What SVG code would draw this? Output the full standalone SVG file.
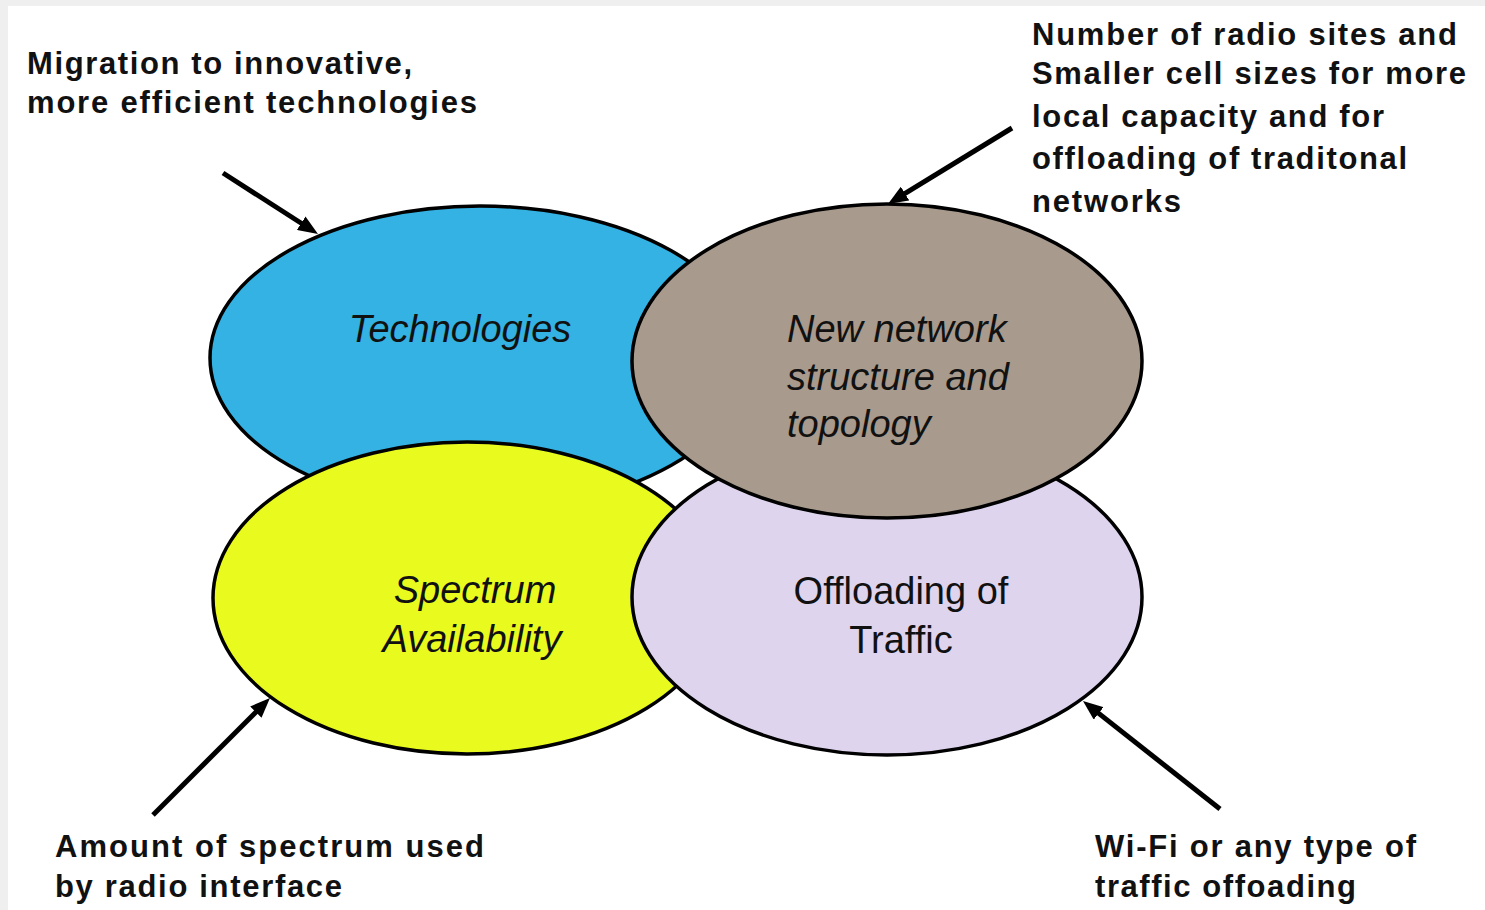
<svg xmlns="http://www.w3.org/2000/svg" width="1485" height="910" viewBox="0 0 1485 910">
<style>
.ell{stroke:#000;stroke-width:3.5}
.lbl{font-family:"Liberation Sans",Arial,sans-serif;font-size:38px;fill:#111}
.it{font-style:italic}
.note{font-family:"Liberation Sans",Arial,sans-serif;font-weight:bold;font-size:31px;fill:#111}
.arr{stroke:#000;stroke-width:5;fill:none;marker-end:url(#ah)}
</style>
<defs>
<marker id="ah" viewBox="0 0 20 16" refX="8" refY="8" markerWidth="20" markerHeight="16" markerUnits="userSpaceOnUse" orient="auto">
<path d="M0,0 L20,8 L0,16 z" fill="#000"/>
</marker>
</defs>
<rect x="0" y="0" width="1485" height="910" fill="#efefef"/>
<rect x="8" y="6" width="1477" height="904" fill="#fff"/>

<g id="node-technologies">
<ellipse class="ell" cx="480" cy="358" rx="270" ry="152" fill="#33b2e3"/>
<text class="lbl it" x="460" y="342" text-anchor="middle">Technologies</text>
</g>
<g id="node-spectrum">
<ellipse class="ell" cx="467" cy="598" rx="254" ry="156" fill="#e9fa1e"/>
<text class="lbl it" x="475" y="603" text-anchor="middle">Spectrum</text>
<text class="lbl it" x="472" y="652" text-anchor="middle">Availability</text>
</g>
<g id="node-offloading">
<ellipse class="ell" cx="887" cy="597" rx="255" ry="158" fill="#ded4ee"/>
<text class="lbl" x="901" y="604" text-anchor="middle">Offloading of</text>
<text class="lbl" x="901" y="653" text-anchor="middle">Traffic</text>
</g>
<g id="node-network">
<ellipse class="ell" cx="887" cy="361" rx="255" ry="157" fill="#a89a8c"/>
<text class="lbl it" x="787" y="342">New network</text>
<text class="lbl it" x="787" y="390">structure and</text>
<text class="lbl it" x="787" y="437">topology</text>
</g>

<g id="connectors">
<line class="arr" x1="223" y1="173" x2="307.9" y2="227.5"/>
<line class="arr" x1="1012" y1="128" x2="898.2" y2="197.7"/>
<line class="arr" x1="153" y1="815" x2="261.5" y2="706.5"/>
<line class="arr" x1="1220" y1="809" x2="1092.4" y2="708.4"/>
</g>

<g id="note-migration">
<text class="note" x="27" y="74" textLength="385" lengthAdjust="spacing">Migration to innovative,</text>
<text class="note" x="27" y="113" textLength="450" lengthAdjust="spacing">more efficient technologies</text>
</g>
<g id="note-radio-sites">
<text class="note" x="1032" y="45" textLength="425" lengthAdjust="spacing">Number of radio sites and</text>
<text class="note" x="1032" y="84" textLength="434" lengthAdjust="spacing">Smaller cell sizes for more</text>
<text class="note" x="1032" y="127" textLength="352" lengthAdjust="spacing">local capacity and for</text>
<text class="note" x="1032" y="169" textLength="375" lengthAdjust="spacing">offloading of traditonal</text>
<text class="note" x="1032" y="212" textLength="149" lengthAdjust="spacing">networks</text>
</g>
<g id="note-spectrum">
<text class="note" x="55" y="857" textLength="429" lengthAdjust="spacing">Amount of spectrum used</text>
<text class="note" x="55" y="897" textLength="287" lengthAdjust="spacing">by radio interface</text>
</g>
<g id="note-wifi">
<text class="note" x="1095" y="857" textLength="321" lengthAdjust="spacing">Wi-Fi or any type of</text>
<text class="note" x="1095" y="897" textLength="261" lengthAdjust="spacing">traffic offoading</text>
</g>
</svg>
